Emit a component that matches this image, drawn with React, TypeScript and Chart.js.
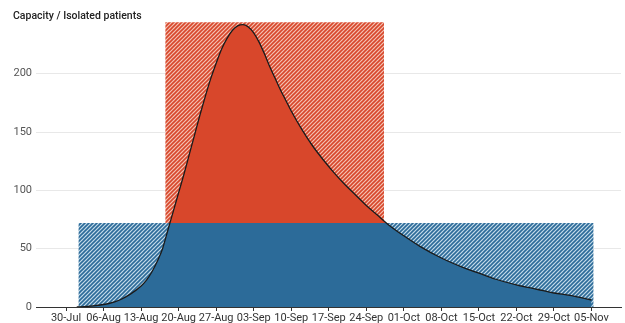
import React, { useEffect, useRef } from 'react';
import { Chart, registerables } from 'chart.js';

Chart.register(...registerables);

// Tick labels (one per week), positions in days since 30-Jul
const weekLabels = ['30-Jul', '06-Aug', '13-Aug', '20-Aug', '27-Aug', '03-Sep', '10-Sep', '17-Sep', '24-Sep', '01-Oct', '08-Oct', '15-Oct', '22-Oct', '29-Oct', '05-Nov'];
const weekTickDays = [0, 7, 14, 21, 28, 35, 42, 49, 56, 63, 70, 77, 84, 91, 98];

// Isolated patients curve (days since 30-Jul, patients)
const patientDays = [2, 4, 6, 8, 10, 12, 14, 15, 16, 17, 18, 19, 20, 21, 22, 23, 24, 25, 26, 27, 28, 29, 30, 31, 32, 33, 34, 35, 36, 37, 38, 39, 40, 41, 42, 44, 46, 48, 50, 52, 54, 56, 58, 60, 63, 66, 70, 74, 77, 80, 84, 88, 91, 94, 98];
const patientValues = [0, 0.5, 1.5, 3, 6, 11, 18, 23, 30, 39, 50, 66, 82, 98, 114, 131, 148, 165, 181, 196, 209, 221, 230, 237, 241, 242, 240, 235, 227, 217, 206, 196, 186, 177, 168, 152, 138, 126, 115, 105, 96, 87, 79, 71, 61, 52, 42, 34, 29, 24, 19, 15, 12, 10, 6];

// Capacity blocks
const baseCapacityDays = [2.3, 98.4];
const baseCapacityLevel = 72;
const surgeCapacityDays = [18.5, 59.3];
const surgeCapacityLevel = 244;

const yTicks = [0, 50, 100, 150, 200];

const RED = '#d8472b';
const BLUE = '#2c6b99';

function makeHatch(bg: string, stripe: string): CanvasPattern | string {
  const c = document.createElement('canvas');
  const s = 4;
  c.width = s;
  c.height = s;
  const g = c.getContext('2d');
  if (!g) return stripe;
  g.fillStyle = bg;
  g.fillRect(0, 0, s, s);
  g.strokeStyle = stripe;
  g.lineWidth = 1.6;
  g.beginPath();
  g.moveTo(-1, s + 1);
  g.lineTo(s + 1, -1);
  g.moveTo(-1, 1);
  g.lineTo(1, -1);
  g.moveTo(s - 1, s + 1);
  g.lineTo(s + 1, s - 1);
  g.stroke();
  const p = g.createPattern(c, 'repeat');
  return p || stripe;
}

const titlePlugin = {
  id: 'yTitle',
  afterDraw(chart: any) {
    const ctx = chart.ctx;
    ctx.save();
    ctx.font = '500 10.5px Roboto';
    ctx.fillStyle = '#222';
    ctx.textAlign = 'left';
    ctx.textBaseline = 'middle';
    ctx.fillText('Capacity / Isolated patients', 13, 16);
    ctx.restore();
  },
};

export default function App() {
  const ref = useRef<HTMLCanvasElement | null>(null);

  useEffect(() => {
    if (!ref.current) return;
    const redHatch = makeHatch('#f3c2b3', RED);
    const blueHatch = makeHatch('#c4dbea', BLUE);
    const curve = patientDays.map((d, i) => ({ x: d, y: patientValues[i] }));

    const chart = new Chart(ref.current, {
      type: 'line',
      data: {
        datasets: [
          {
            label: 'Isolated patients',
            data: curve,
            borderColor: '#1a1a1a',
            borderWidth: 1.3,
            pointRadius: 0,
            fill: false,
            cubicInterpolationMode: 'monotone',
            order: 1,
          },
          {
            label: 'Above capacity',
            data: curve,
            borderWidth: 0,
            borderColor: 'transparent',
            pointRadius: 0,
            fill: { target: { value: baseCapacityLevel }, above: RED, below: 'rgba(0,0,0,0)' },
            cubicInterpolationMode: 'monotone',
            order: 2,
          },
          {
            label: 'Within capacity',
            data: curve,
            borderWidth: 0,
            borderColor: 'transparent',
            pointRadius: 0,
            backgroundColor: BLUE,
            fill: 'origin',
            cubicInterpolationMode: 'monotone',
            order: 3,
          },
          {
            label: 'Surge capacity',
            data: surgeCapacityDays.map((d) => ({ x: d, y: surgeCapacityLevel })),
            borderWidth: 0,
            borderColor: 'transparent',
            pointRadius: 0,
            backgroundColor: redHatch as any,
            fill: { target: { value: baseCapacityLevel }, above: redHatch as any, below: redHatch as any },
            order: 4,
          },
          {
            label: 'Capacity',
            data: baseCapacityDays.map((d) => ({ x: d, y: baseCapacityLevel })),
            borderWidth: 0,
            borderColor: 'transparent',
            pointRadius: 0,
            backgroundColor: blueHatch as any,
            fill: 'origin',
            order: 5,
          },
        ],
      },
      options: {
        animation: false,
        responsive: false,
        devicePixelRatio: 1,
        layout: { padding: { top: 20, right: 4, left: 0, bottom: 0 } },
        plugins: { legend: { display: false }, tooltip: { enabled: false } },
        scales: {
          x: {
            type: 'linear',
            min: -5.6,
            max: 103.5,
            afterBuildTicks: (scale: any) => {
              scale.ticks = weekTickDays.map((v) => ({ value: v }));
            },
            afterFit: (scale: any) => {
              scale.height = 16;
            },
            ticks: {
              autoSkip: false,
              maxRotation: 0,
              minRotation: 0,
              padding: 1,
              color: '#333',
              font: { family: 'Roboto', size: 11 },
              callback: (v: any) => {
                const i = weekTickDays.indexOf(Number(v));
                return i >= 0 ? weekLabels[i] : '';
              },
            },
            grid: { display: true, drawOnChartArea: false, drawTicks: true, tickLength: 4, color: '#333' },
            border: { display: true, color: '#333', width: 1 },
          },
          y: {
            min: 0,
            max: 246,
            afterBuildTicks: (scale: any) => {
              scale.ticks = yTicks.map((v) => ({ value: v }));
            },
            afterFit: (scale: any) => {
              scale.width = 36;
            },
            ticks: {
              padding: 4,
              color: '#555',
              font: { family: 'Roboto', size: 11 },
            },
            grid: { color: '#e8e8e8', drawTicks: false, lineWidth: 1 },
            border: { display: false },
          },
        },
      },
      plugins: [titlePlugin],
    } as any);

    return () => chart.destroy();
  }, []);

  return (
    <div style={{ position: 'fixed', left: 0, top: 0, width: 625, height: 323, background: '#fff' }}>
      <canvas ref={ref} width={625} height={323} style={{ width: 625, height: 323 }} />
    </div>
  );
}
